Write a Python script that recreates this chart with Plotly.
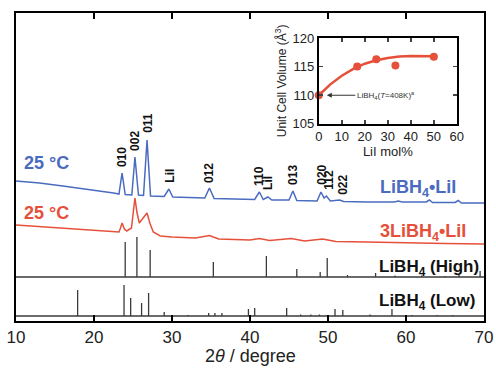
import plotly.graph_objects as go

# ---------------- data ----------------
# LiBH4·LiI pattern (2theta, intensity a.u.)
blue_x = [10, 13, 16, 19, 21, 22.5, 23.2, 23.6, 24.0, 24.85, 25.25, 25.7, 26.35, 26.8, 27.25,
          29.0, 29.6, 30.1, 34.2, 34.8, 35.4, 40.6, 41.2, 41.7, 42.3, 42.8, 45.0, 45.5, 46.0,
          48.6, 49.1, 49.5, 49.8, 50.3, 51.5, 52.0, 55, 58.5, 59.0, 59.5, 62.6, 63.0, 63.4,
          66.3, 66.7, 67.1, 70]
blue_y = [22, 20, 17, 14, 11.5, 10, 9, 30, 8.5, 8, 46, 8, 7.5, 63, 7,
          6.5, 14, 6, 5, 15, 4.5, 3.5, 11, 3.5, 6, 3, 3, 12, 2.5,
          2, 11, 5, 7, 2, 3, 1.5, 1, 1, 2, 1, 1, 3, 0.5,
          0.5, 2.5, 0, 0]

# 3LiBH4·LiI pattern
red_x = [10, 14, 18, 22, 23.2, 23.35, 23.6, 23.9, 24.2, 24.8, 25.0, 25.25, 25.5, 25.8, 26.3,
         26.8, 27.2, 27.6, 28.5, 30, 33, 34.8, 36, 40, 41.2, 42.5, 45.3, 47, 49.3, 51, 55,
         60, 65, 70]
red_y = [19, 17, 15, 13, 12, 15, 21, 15, 13, 16, 32, 46, 32, 21, 26,
         31, 20, 12, 8, 7, 6, 8.5, 5, 4, 5.5, 3.5, 5.5, 3, 5, 2.5, 2,
         1, 0.5, 0]

# LiBH4 (High) reference sticks
high_pos = [24.0, 25.5, 27.2, 35.3, 42.1, 46.0, 49.0, 49.9, 52.5, 56.1, 58.6, 62.0, 65.0, 66.8, 69.5]
high_int = [35, 40, 27, 15, 21, 8, 5, 19, 2, 4, 1.5, 1.5, 1, 2, 6]

# LiBH4 (Low) reference sticks
low_pos = [17.9, 23.85, 24.7, 26.1, 27.0, 29.0, 32.1, 34.7, 35.5, 36.4, 39.8, 40.6, 44.7,
           46.5, 47.8, 48.9, 50.9, 51.9, 55.4, 58.2, 60.8, 64.0, 66.0]
low_int = [26, 31, 18, 13, 23, 4, 1, 3, 3, 3, 7, 8, 8,
           1.5, 1.5, 1.5, 7, 6, 1.5, 7, 1, 1, 1]

# peak labels (hkl) and their 2theta
hkl_labels = ["010", "002", "011", "LiI", "012", "110", "LiI", "013", "020", "112", "022"]
hkl_pos = [23.6, 25.25, 26.9, 29.7, 34.75, 41.15, 42.3, 45.5, 49.2, 50.1, 51.9]
hkl_base = [152, 168, 186, 136, 136, 133, 129, 134, 134, 129, 124]  # label foot (axis units)

# inset: unit cell volume vs LiI mol%
inset_x = [0, 16.7, 25, 33.3, 50]
inset_y = [110.0, 115.0, 116.3, 115.2, 116.7]
fit_x = [0, 5, 10, 15, 20, 25, 30, 35, 40, 45, 50]
fit_y = [110.0, 111.9, 113.4, 114.6, 115.5, 116.1, 116.5, 116.75, 116.85, 116.85, 116.8]

x_ticks = [10, 20, 30, 40, 50, 60, 70]

# ---------------- styling / layout ----------------
BLUE = "#4a6cc0"
RED = "#e6503a"
GRAY = "#3a3a3a"
FONT = "Liberation Sans, Arial, sans-serif"

off_blue, off_red, off_high, off_low = 118, 77, 44, 5

fig = go.Figure()

fig.add_trace(go.Scatter(x=blue_x, y=[v + off_blue for v in blue_y], mode="lines",
                         line=dict(color=BLUE, width=1.5), hoverinfo="skip"))
fig.add_trace(go.Scatter(x=red_x, y=[v + off_red for v in red_y], mode="lines",
                         line=dict(color=RED, width=1.5), hoverinfo="skip"))


def sticks(pos, inten, off):
    xs, ys = [10, 70, None], [off, off, None]
    for p, h in zip(pos, inten):
        xs += [p, p, None]
        ys += [off, off + h, None]
    return xs, ys


for pos, inten, off in [(high_pos, high_int, off_high), (low_pos, low_int, off_low)]:
    xs, ys = sticks(pos, inten, off)
    fig.add_trace(go.Scatter(x=xs, y=ys, mode="lines", line=dict(color=GRAY, width=1.3),
                             hoverinfo="skip"))

# inset traces
fig.add_trace(go.Scatter(x=fit_x, y=fit_y, mode="lines", xaxis="x2", yaxis="y2",
                         line=dict(color=RED, width=2.5), hoverinfo="skip"))
fig.add_trace(go.Scatter(x=inset_x, y=inset_y, mode="markers", xaxis="x2", yaxis="y2",
                         marker=dict(color=RED, size=8), hoverinfo="skip",
                         cliponaxis=False))

ann = []
for lab, p, b in zip(hkl_labels, hkl_pos, hkl_base):
    ann.append(dict(x=p, y=b, xref="x", yref="y", text="<b>%s</b>" % lab, textangle=-90,
                    showarrow=False, xanchor="center", yanchor="bottom",
                    font=dict(family=FONT, size=12, color="#111")))

side = [
    ("<b>25 °C</b>", 10.75, 158, BLUE, 18),
    ("<b>25 °C</b>", 10.75, 108, RED, 18),
    ("<b>LiBH<sub>4</sub>•LiI</b>", 56.4, 133, BLUE, 18),
    ("<b>3LiBH<sub>4</sub>•LiI</b>", 56.4, 89, RED, 18),
    ("<b>LiBH<sub>4</sub> (High)</b>", 56.3, 53, "#111", 17),
    ("<b>LiBH<sub>4</sub> (Low)</b>", 56.3, 19, "#111", 17),
]
for t, x, y, c, s in side:
    ann.append(dict(x=x, y=y, xref="x", yref="y", text=t, showarrow=False, xanchor="left",
                    yanchor="middle", font=dict(family=FONT, size=s, color=c)))

ann.append(dict(x=0, y=110, xref="x2", yref="y2",
                text="LiBH<sub>4</sub>(<i>T</i>=408K)<sup>a</sup>",
                showarrow=True, ax=67, ay=0, arrowhead=2, arrowsize=1, arrowwidth=1,
                arrowcolor="#333", standoff=8,
                font=dict(family=FONT, size=8, color="#333")))

# main x-axis title
ann.append(dict(x=0.5, y=-0.113, xref="paper", yref="paper", text="2<i>θ</i> / degree",
                showarrow=False, xanchor="center", yanchor="middle",
                font=dict(family=FONT, size=18, color="#222")))

fig.update_layout(
    width=496, height=370,
    margin=dict(l=16, r=12, t=13, b=49, autoexpand=False),
    paper_bgcolor="white", plot_bgcolor="white",
    showlegend=False,
    font=dict(family=FONT, color="#111"),
    xaxis=dict(range=[10, 70], tickvals=x_ticks, ticks="inside", ticklen=6, tickwidth=2,
               tickcolor="black", showline=True, linewidth=2, linecolor="black",
               mirror="ticks", showgrid=False, zeroline=False, automargin=False,
               tickfont=dict(family=FONT, size=17, color="#222")),
    yaxis=dict(range=[0, 308], showticklabels=False, ticks="", showline=True, linewidth=2,
               linecolor="black", mirror=True, showgrid=False, zeroline=False,
               automargin=False, fixedrange=True),
    xaxis2=dict(domain=[0.647, 0.942], anchor="y2", range=[0, 60],
                tickvals=[0, 10, 20, 30, 40, 50, 60], ticks="inside", ticklen=4, tickwidth=1.5,
                showline=True, linewidth=2, linecolor="black", mirror="ticks",
                showgrid=False, zeroline=False, automargin=False,
                tickfont=dict(family=FONT, size=13, color="#222"),
                title=dict(text="LiI mol%", standoff=2,
                           font=dict(family=FONT, size=13, color="#222"))),
    yaxis2=dict(domain=[0.640, 0.919], anchor="x2", range=[105, 120],
                tickvals=[105, 110, 115, 120], ticks="inside", ticklen=4, tickwidth=1.5,
                showline=True, linewidth=2, linecolor="black", mirror="ticks",
                showgrid=False, zeroline=False, automargin=False,
                tickfont=dict(family=FONT, size=13, color="#222"),
                title=dict(text="Unit Cell Volume (Å<sup>3</sup>)", standoff=3,
                           font=dict(family=FONT, size=12, color="#222"))),
    annotations=ann,
)

fig.write_html("out.html", config={"displayModeBar": False, "staticPlot": True},
               post_script="document.body.style.margin='0';document.body.style.overflow='hidden';")
